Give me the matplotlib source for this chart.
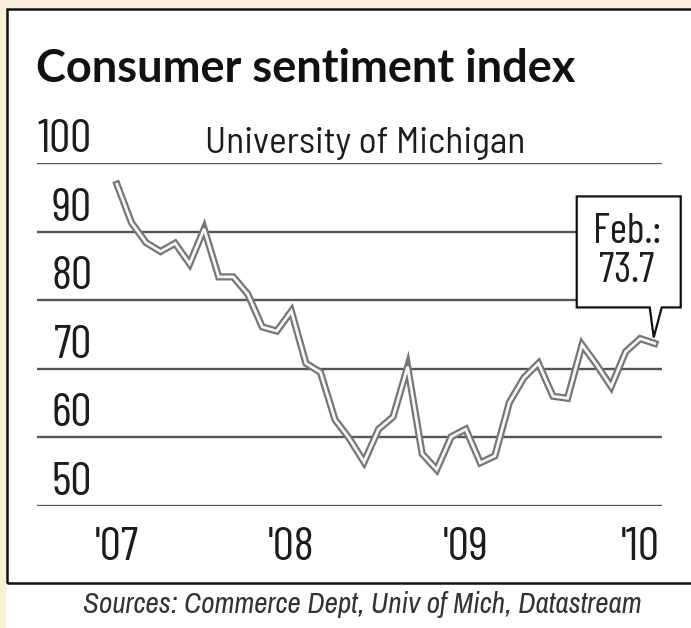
import matplotlib
matplotlib.use("Agg")
import matplotlib.pyplot as plt
import matplotlib.transforms as mtransforms
from matplotlib.patches import Rectangle, Polygon

# Consumer sentiment, monthly, Jan 2007 .. Feb 2010
sentiment = [96.9, 91.3, 88.4, 87.1, 88.3, 85.3, 90.4, 83.4, 83.4, 80.9, 76.1, 75.5,
             78.4, 70.8, 69.5, 62.6, 59.8, 56.4, 61.2, 63.0, 70.3, 57.6, 55.3, 60.1,
             61.2, 56.3, 57.3, 65.1, 68.7, 70.8, 66.0, 65.7, 73.5, 70.6, 67.4, 72.5,
             74.4, 73.7]
months = list(range(len(sentiment)))
year_ticks = [0, 12, 24, 36]
year_labels = ["'07", "'08", "'09", "'10"]
y_levels = [50, 60, 70, 80, 90, 100]
last_label = "Feb.:\n73.7"

din = ["Barlow Condensed", "Roboto Condensed", "DejaVu Sans"]
din_light = ["Barlow Semi Condensed", "Roboto Condensed", "DejaVu Sans"]
narrow_it = ["Archivo Narrow", "Roboto Condensed", "DejaVu Sans"]
bold_sans = ["Lato", "DejaVu Sans"]
W, H = 691, 628
ink = "#1c1c1c"

fig = plt.figure(figsize=(W / 100, H / 100), dpi=100)
fig.patch.set_facecolor("#f9efdc")
fig.add_artist(Rectangle((6 / W, 0), 1, 1 - 9 / H, transform=fig.transFigure,
                         facecolor="white", edgecolor="none", zorder=0))
fig.add_artist(Rectangle((7 / W, 1 - 583 / H), 1, (583 - 9) / H, transform=fig.transFigure,
                         fill=False, edgecolor="#111111", lw=1.8, zorder=1))

ax = fig.add_axes([37 / W, 1 - 506 / H, (662 - 37) / W, (506 - 163) / H])
ax.set_facecolor("none")
for s in ax.spines.values():
    s.set_visible(False)
ax.set_xlim(-5.5, 37.5)
ax.set_ylim(50, 100)

for v in y_levels:
    ax.axhline(v, color="#555555", lw=1.7, zorder=1)
    ax.text(0.088, v + 1.6, str(v), transform=ax.get_yaxis_transform(),
            ha="right", va="baseline", fontsize=34, family=din, fontstretch="condensed",
            color=ink)
ax.set_yticks([])

ax.set_xticks(year_ticks)
ax.set_xticklabels(year_labels, fontsize=34, family=din, fontstretch="condensed", color=ink)
ax.tick_params(axis="x", length=0, pad=15)

ax.plot(months, sentiment, color="#767676", lw=5.2, solid_joinstyle="miter", zorder=3)
ax.plot(months, sentiment, color="#f6f6f6", lw=2.0, solid_joinstyle="miter", zorder=4)

# callout box with pointer to the last reading
px = 1 / 100
trans = fig.dpi_scale_trans + mtransforms.ScaledTranslation(months[-1], sentiment[-1], ax.transData)
verts = [(-1, 6), (7, 36), (26, 36), (26, 147), (-78, 147), (-78, 36), (-5, 36)]
ax.add_artist(Polygon([(a * px, b * px) for a, b in verts], closed=True, transform=trans,
                      facecolor="white", edgecolor="#111111", lw=1.6, zorder=5, clip_on=False))
ax.text(-28 * px, 91 * px, last_label, transform=trans, ha="center", va="center",
        fontsize=30, family=din, fontstretch="condensed", color=ink,
        linespacing=1.0, zorder=6)

fig.text(36 / W, 1 - 82 / H, "Consumer sentiment index", fontsize=32.5, fontweight="bold",
         family=bold_sans, color="#111111", va="baseline")
fig.text(205 / W, 1 - 153 / H, "University of Michigan", fontsize=27,
         family=din_light, fontstretch="condensed", color=ink, va="baseline")
fig.text(362 / W, 1 - 605 / H, "Sources: Commerce Dept, Univ of Mich, Datastream",
         fontsize=21, family=narrow_it, fontstretch="condensed", style="italic",
         color="#333333", ha="center", va="center")

fig.savefig("out.png", dpi=100, facecolor=fig.get_facecolor())
